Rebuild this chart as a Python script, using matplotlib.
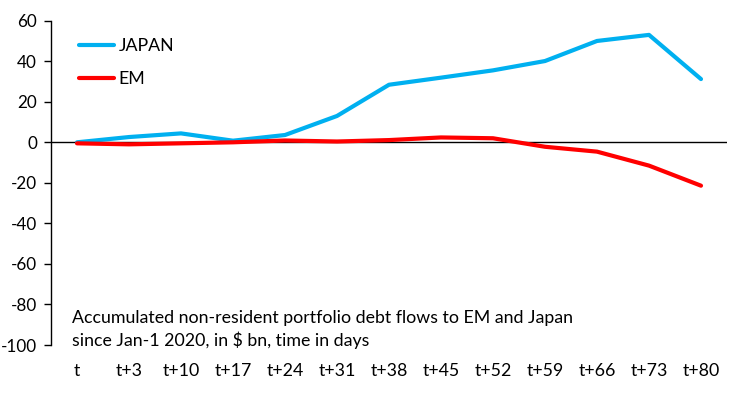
import matplotlib
matplotlib.use("Agg")
import matplotlib.pyplot as plt

categories = ["t", "t+3", "t+10", "t+17", "t+24", "t+31", "t+38", "t+45",
              "t+52", "t+59", "t+66", "t+73", "t+80"]
japan = [0, 2.6, 4.4, 0.8, 3.6, 13, 28.4, 31.9, 35.5, 40.1, 50, 53, 31.2]
em = [-0.5, -1, -0.5, 0, 0.9, 0.4, 1.1, 2.4, 2.0, -2.2, -4.6, -11.5, -21.4]
yticks = [60, 40, 20, 0, -20, -40, -60, -80, -100]

plt.rcParams['font.family'] = ['Lato', 'DejaVu Sans']

fig = plt.figure(figsize=(7.33, 3.93), dpi=100)
ax = fig.add_axes([51/733, 1-345/393, (727-51)/733, (345-20.7)/393])

x = list(range(len(categories)))
ax.plot(x, japan, color="#00B0F0", lw=3, solid_capstyle="round", label="JAPAN")
ax.plot(x, em, color="#FF0000", lw=3, solid_capstyle="round", label="EM")
ax.axhline(0, color="black", lw=1, zorder=1)

ax.set_xlim(-0.5, len(categories) - 0.5)
ax.set_ylim(-100, 60)
ax.set_yticks(yticks)
ax.set_yticklabels([str(v) for v in yticks], fontsize=12.3)
ax.set_xticks(x)
ax.set_xticklabels(categories, fontsize=12.8)
ax.tick_params(axis="x", length=0, pad=13)
ax.tick_params(axis="y", length=5, width=1, pad=5, direction="out")

for s in ["top", "right", "bottom"]:
    ax.spines[s].set_visible(False)
ax.spines["left"].set_linewidth(1)

leg = ax.legend(loc="upper left", bbox_to_anchor=(0.02, 0.99), frameon=False,
                fontsize=12.8, handlelength=2.0, handletextpad=0.25, labelspacing=0.95,
                borderpad=0.3)

ax.text(0.031, 0.108, "Accumulated non-resident portfolio debt flows to EM and Japan\nsince Jan-1 2020, in $ bn, time in days",
        transform=ax.transAxes, fontsize=12.8, va="top", ha="left", linespacing=1.35)

fig.savefig("out.png", dpi=100)
